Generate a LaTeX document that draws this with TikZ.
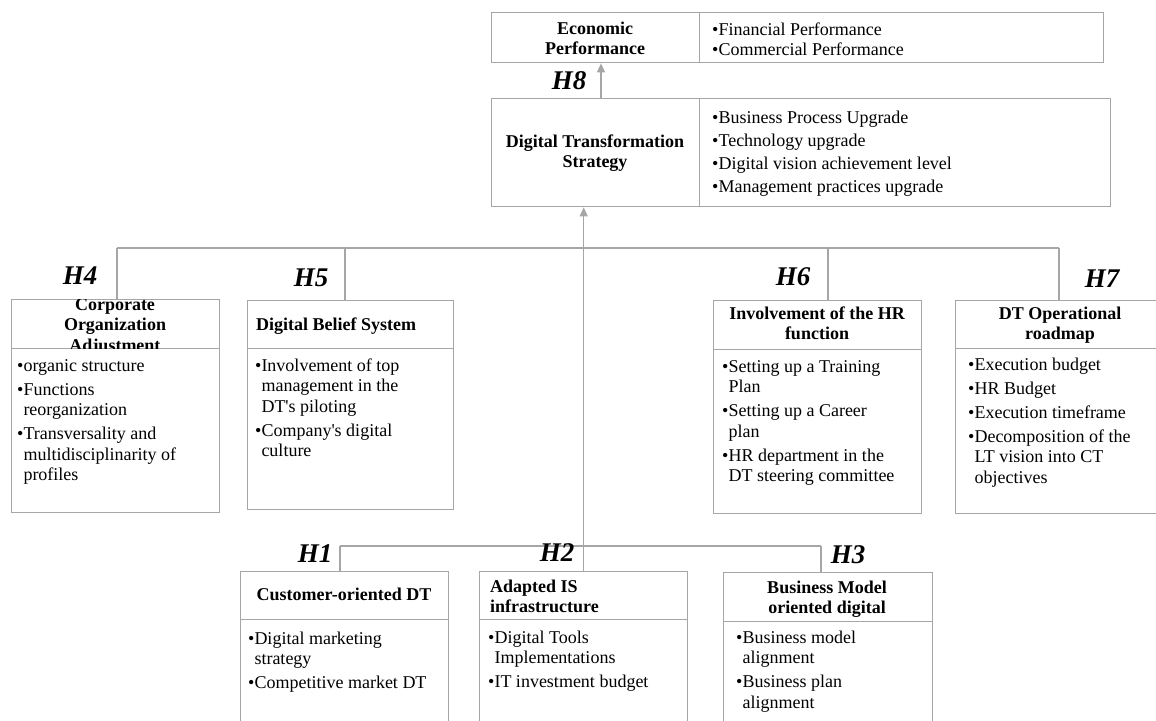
\documentclass[tikz,border=0pt]{standalone}
\usepackage{fontspec}
\setmainfont{Liberation Serif}
\usetikzlibrary{arrows.meta}
\definecolor{lg}{RGB}{166,166,166}
\newcommand\bodyfont{\fontsize{18}{20.5}\selectfont}
\newcommand\headfont{\fontsize{18}{20.5}\selectfont\bfseries}
\newcommand\hypfont{\fontsize{27}{30}\selectfont\bfseries\itshape}
\newcommand\ind{\hphantom{•}}
\newcommand\apo{\textquotesingle}
\begin{document}
\begin{tikzpicture}[x=1pt,y=-1pt,
  cell/.style={draw=lg, line width=1.4pt, inner sep=0pt, anchor=north west},
  conn/.style={draw=lg, line width=1.4pt},
  arrowc/.style={draw=lg, line width=1.4pt, -{Triangle[width=8pt,length=9pt]}, fill=lg},
  hd/.style={font=\headfont, align=center, inner sep=0pt},
  bul/.style={font=\bodyfont, align=left, inner sep=0pt, anchor=north west},
  hyp/.style={font=\hypfont, inner sep=0pt}]
\useasboundingbox (0,0) rectangle (1156,720);
\clip (0,0) rectangle (1156,720);
\fill[white] (0,0) rectangle (1156,720);

% ---------- boxes ----------
\node[cell, minimum width=208pt, minimum height=50pt] (ecoH) at (491,12) {};
\node[cell, minimum width=404pt, minimum height=50pt] (ecoB) at (699,12) {};
\node[cell, minimum width=208pt, minimum height=108pt] (dtsH) at (491,98) {};
\node[cell, minimum width=411pt, minimum height=108pt] (dtsB) at (699,98) {};

\node[cell, minimum width=208pt, minimum height=49pt] (corpH) at (11,299) {};
\node[cell, minimum width=208pt, minimum height=164pt] (corpB) at (11,348) {};
\node[cell, minimum width=206pt, minimum height=48pt] (belH) at (247,300) {};
\node[cell, minimum width=206pt, minimum height=161pt] (belB) at (247,348) {};
\node[cell, minimum width=208pt, minimum height=49pt] (hrH) at (713,300) {};
\node[cell, minimum width=208pt, minimum height=164pt] (hrB) at (713,349) {};
\node[cell, minimum width=220pt, minimum height=48pt] (rdH) at (955,300) {};
\node[cell, minimum width=220pt, minimum height=165pt] (rdB) at (955,348) {};

\node[cell, minimum width=208pt, minimum height=48pt] (cusH) at (240,571) {};
\node[cell, minimum width=208pt, minimum height=130pt] (cusB) at (240,619) {};
\node[cell, minimum width=208pt, minimum height=48pt] (isH) at (479,571) {};
\node[cell, minimum width=208pt, minimum height=130pt] (isB) at (479,619) {};
\node[cell, minimum width=209pt, minimum height=49pt] (bmH) at (723,572) {};
\node[cell, minimum width=209pt, minimum height=130pt] (bmB) at (723,621) {};

% ---------- texts ----------
\node[hd, anchor=north] (ecoHt) at (595,19.65) {\strut Economic\\Performance};
\node[bul] (ecoBt) at (712,20.65) {\strut•Financial Performance\\•Commercial Performance};
\node[hd, anchor=north] (dtsHt) at (595,132.65) {\strut Digital Transformation\\Strategy};
\node[bul] (dtsBt) at (712,108.65) {\strut•Business Process Upgrade\\[2.5pt]•Technology upgrade\\[2.5pt]•Digital vision achievement level\\[2.5pt]•Management practices upgrade};

\begin{scope}
\clip (11,299) rectangle (219,348);
\node[hd, anchor=north] (corpHt) at (115,295.65) {\strut Corporate\\Organization\\Adjustment};
\end{scope}
\node[bul] (corpBt) at (17,356.65) {\strut•organic structure\\[3.5pt]•Functions\\\ind reorganization\\[3.5pt]•Transversality and\\\ind multidisciplinarity of\\\ind profiles};

\node[hd, anchor=base west] (belHt) at (256,330) {Digital Belief System};
\node[bul] (belBt) at (255,356.65) {\strut•Involvement of top\\\ind management in the\\\ind DT\apo s piloting\\[3.5pt]•Company\apo s digital\\\ind culture};

\node[hd, anchor=north] (hrHt) at (817,304.65) {\strut Involvement of the HR\\function};
\node[bul] (hrBt) at (722,357.65) {\strut•Setting up a Training\\\ind Plan\\[3.5pt]•Setting up a Career\\\ind plan\\[3.5pt]•HR department in the\\\ind DT steering committee};

\node[hd, anchor=north] (rdHt) at (1060,304.65) {\strut DT Operational\\roadmap};
\node[bul] (rdBt) at (968,355.65) {\strut•Execution budget\\[3.5pt]•HR Budget\\[3.5pt]•Execution timeframe\\[3.5pt]•Decomposition of the\\\ind LT vision into CT\\\ind objectives};

\node[hd, anchor=base] (cusHt) at (344,600) {Customer-oriented DT};
\node[bul] (cusBt) at (248,629.65) {\strut•Digital marketing\\\ind strategy\\[3.5pt]•Competitive market DT};

\node[hd, align=left, anchor=north west] (isHt) at (490,577.65) {\strut Adapted IS\\infrastructure};
\node[bul] (isBt) at (488,628.65) {\strut•Digital Tools\\\ind Implementations\\[3.5pt]•IT investment budget};

\node[hd, anchor=north] (bmHt) at (827,578.65) {\strut Business Model\\oriented digital};
\node[bul] (bmBt) at (736,628.65) {\strut•Business model\\\ind alignment\\[3.5pt]•Business plan\\\ind alignment};

% ---------- connectors ----------
\coordinate (u4) at (117,248);
\coordinate (u5) at (345,248);
\coordinate (u6) at (828,248);
\coordinate (u7) at (1059,248);
\coordinate (l1) at (340,546);
\coordinate (l3) at (821,546);
\coordinate (h8x) at (601,0);

\draw[conn] (u4) -- (u7);
\draw[conn] (u4) -- (u4 |- corpH.north);
\draw[conn] (u5) -- (u5 |- belH.north);
\draw[conn] (u6) -- (u6 |- hrH.north);
\draw[conn] (u7) -- (u7 |- rdH.north);
\draw[conn] (l1) -- (l3);
\draw[conn] (l1) -- (l1 |- cusH.north);
\draw[conn] (l3) -- (l3 |- bmH.north);
\draw[arrowc] (isH.north) -- (isH.north |- dtsH.south);
\draw[arrowc] (h8x |- dtsH.north) -- (h8x |- ecoH.south);

% ---------- hypothesis labels ----------
\node[hyp] (h8) at (569,81) {H8};
\node[hyp] (h4) at (80,276) {H4};
\node[hyp] (h5) at (311,278) {H5};
\node[hyp] (h6) at (793,277) {H6};
\node[hyp] (h7) at (1102,279) {H7};
\node[hyp] (h1) at (315,554) {H1};
\node[hyp] (h2) at (557,553) {H2};
\node[hyp] (h3) at (848,555) {H3};
\end{tikzpicture}
\end{document}
